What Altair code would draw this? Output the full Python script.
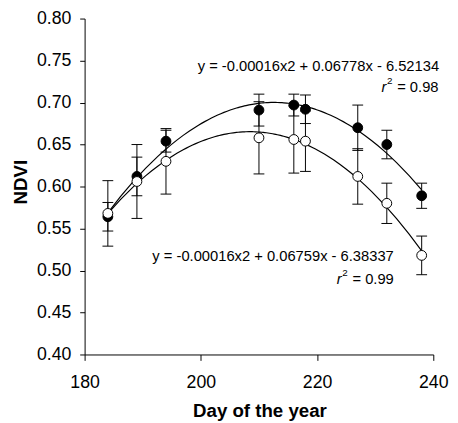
import altair as alt
import pandas as pd

# Day of year sampled
days = [184, 189, 194, 210, 216, 218, 227, 232, 238]
# Filled circles series (mean NDVI and error half-width)
filled_mean = [0.564, 0.612, 0.654, 0.691, 0.697, 0.692, 0.670, 0.650, 0.589]
filled_err = [0.017, 0.023, 0.013, 0.019, 0.013, 0.017, 0.027, 0.017, 0.015]
# Open circles series
open_mean = [0.568, 0.606, 0.630, 0.658, 0.656, 0.654, 0.612, 0.580, 0.518]
open_err = [0.039, 0.044, 0.039, 0.043, 0.040, 0.036, 0.033, 0.024, 0.023]

x_ticks = [180, 200, 220, 240]
y_ticks = [0.40, 0.45, 0.50, 0.55, 0.60, 0.65, 0.70, 0.75, 0.80]

eq_filled = "y = -0.00016x2 + 0.06778x - 6.52134"
r2_filled = " = 0.98"
eq_open = "y = -0.00016x2 + 0.06759x - 6.38337"
r2_open = " = 0.99"

rows = []
for d, m, e in zip(days, filled_mean, filled_err):
    rows.append({"day": d, "series": "filled", "ndvi": m, "lo": m - e, "hi": m + e})
for d, m, e in zip(days, open_mean, open_err):
    rows.append({"day": d, "series": "open", "ndvi": m, "lo": m - e, "hi": m + e})
df = pd.DataFrame(rows)

FONT = "Liberation Sans"

xscale = alt.Scale(domain=[180, 240], nice=False, zero=False)
yscale = alt.Scale(domain=[0.40, 0.80], nice=False, zero=False)

xenc = alt.X("day:Q", scale=xscale,
             axis=alt.Axis(values=x_ticks, title="Day of the year", grid=False,
                           tickSize=6, labelPadding=14, labelFlush=False,
                           titleX=178, titleY=63,
                           titleBaseline="alphabetic", titleAlign="center"))
yenc = alt.Y("ndvi:Q", scale=yscale,
             axis=alt.Axis(values=y_ticks, format=".2f", title="NDVI", grid=False,
                           tickSize=5, labelPadding=9, labelFlush=False,
                           titleX=-65, titleY=166,
                           titleAngle=-90, titleBaseline="middle", titleAlign="center"))

base = alt.Chart(df)

curves = base.transform_regression(
    "day", "ndvi", groupby=["series"], method="poly", order=2, extent=[184, 238]
).mark_line(color="black", strokeWidth=1.2).encode(
    x=xenc, y=yenc, detail="series:N"
)

bars = base.mark_rule(color="black", strokeWidth=1).encode(
    x="day:Q", y="lo:Q", y2="hi:Q"
)
cap_lo = base.mark_rule(color="black", strokeWidth=1, xOffset=-5.5, x2Offset=5.5).encode(
    x="day:Q", x2="day:Q", y="lo:Q"
)
cap_hi = base.mark_rule(color="black", strokeWidth=1, xOffset=-5.5, x2Offset=5.5).encode(
    x="day:Q", x2="day:Q", y="hi:Q"
)

points = base.mark_point(filled=True, size=100, opacity=1, stroke="black", strokeWidth=1).encode(
    x="day:Q", y="ndvi:Q",
    fill=alt.Fill("series:N", scale=alt.Scale(domain=["filled", "open"], range=["black", "white"]),
                  legend=None),
    order=alt.Order("series:N", sort="ascending"),
)

ann = pd.DataFrame([
    {"day": 241.0, "ndvi": 0.7439, "label": eq_filled},
    {"day": 233.2, "ndvi": 0.5170, "label": eq_open},
])
ann_r2 = pd.DataFrame([
    {"day": 240.9, "ndvi": 0.7180, "label": r2_filled},
    {"day": 233.2, "ndvi": 0.4900, "label": r2_open},
])

eq_text = alt.Chart(ann).mark_text(align="right", baseline="middle", fontSize=15, font=FONT,
                                   color="black").encode(
    x="day:Q", y="ndvi:Q", text="label:N")
r2_text = alt.Chart(ann_r2).mark_text(align="right", baseline="middle", fontSize=15, font=FONT,
                                      color="black").encode(
    x="day:Q", y="ndvi:Q", text="label:N")
sup_text = alt.Chart(ann_r2).mark_text(align="right", baseline="middle", fontSize=10, font=FONT,
                                       color="black", dx=-47, dy=-6).encode(
    x="day:Q", y="ndvi:Q", text=alt.value("2"))
r_text = alt.Chart(ann_r2).mark_text(align="right", baseline="middle", fontSize=15, font=FONT,
                                     fontStyle="italic", color="black", dx=-53).encode(
    x="day:Q", y="ndvi:Q", text=alt.value("r"))

chart = alt.layer(curves, bars, cap_lo, cap_hi, points, eq_text, r2_text, sup_text, r_text).properties(
    width=355, height=342,
    autosize=alt.AutoSizeParams(type="none"),
    padding={"left": 78, "top": 7, "right": 17, "bottom": 66},
).configure_view(stroke=None).configure_axis(
    domainColor="black", tickColor="black", domainWidth=1, tickWidth=1,
    labelFont=FONT, titleFont=FONT, labelFontSize=18, titleFontSize=19,
    labelColor="black", titleColor="black", titleFontWeight="bold",
)

chart.save("out.html", embed_options={"renderer": "svg", "actions": False})
